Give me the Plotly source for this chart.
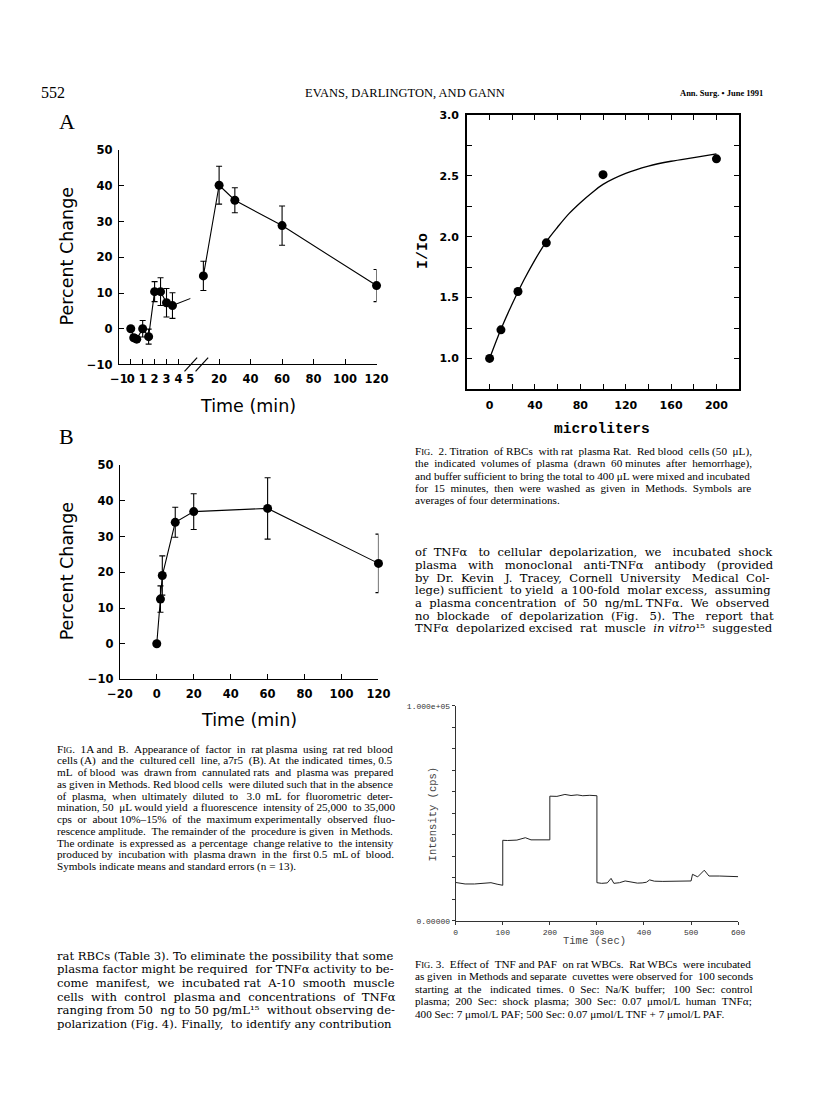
import re
import plotly.graph_objects as go

# Page is 816x1114; the browser adds its default 8px body margin, so the figure is 800x1098
PAGE_W, PAGE_H, PAD = 816, 1114, 8
W, H = PAGE_W - 2 * PAD, PAGE_H - 2 * PAD

# ---------------- Fig. 1A (rat RBCs) ----------------
A_EARLY_T = [0, 0.25, 0.5, 1, 1.5, 2, 2.5, 3, 3.5]
A_EARLY_Y = [0, -2.5, -2.9, 0, -2.2, 10.4, 10.4, 7.3, 6.5]
A_EARLY_ERR = [0.5, 0.8, 0.8, 2.3, 2.1, 2.8, 3.9, 4.0, 3.6]
A_STUB_T = [3.5, 5.1]
A_STUB_Y = [6.5, 8.6]
A_LATE_T = [10, 20, 30, 60, 120]
A_LATE_Y = [14.8, 40.2, 36.0, 28.9, 12.1]
A_LATE_ERR = [4.1, 5.3, 3.5, 5.5, 4.5]
A_EARLY_TICKS = [-1, 0, 1, 2, 3, 4, 5]
A_EARLY_LABELS = ["\u22121", "0", "1", "2", "3", "4", "5"]
A_LATE_TICKS = [20, 40, 60, 80, 100, 120]
PCT_TICKS = [-10, 0, 10, 20, 30, 40, 50]
PCT_LABELS = ["\u221210", "0", "10", "20", "30", "40", "50"]

# ---------------- Fig. 1B (a7r5 cells) ----------------
B_T = [0, 2, 3, 10, 20, 60, 120]
B_Y = [0, 12.5, 19.1, 34.0, 37.0, 37.9, 22.5]
B_ERR = [0, 3.7, 5.5, 4.2, 5.0, 8.6, 8.2]
B_TICKS = [-20, 0, 20, 40, 60, 80, 100, 120]
B_LABELS = ["\u221220", "0", "20", "40", "60", "80", "100", "120"]

# ---------------- Fig. 2 (titration) ----------------
F2_UL = [0, 10, 25, 50, 100, 200]
F2_RATIO = [1.0, 1.235, 1.55, 1.95, 2.51, 2.64]
F2_FIT_UL = [0, 10, 20, 30, 40, 50, 60, 70, 80, 90, 100, 120, 140, 160, 180, 200]
F2_FIT_RATIO = [1.0, 1.24, 1.45, 1.64, 1.81, 1.96, 2.08, 2.19, 2.28, 2.36, 2.43, 2.52, 2.58, 2.62, 2.65, 2.68]
F2_XTICKS = [0, 40, 80, 120, 160, 200]
F2_YTICKS = [1.0, 1.5, 2.0, 2.5, 3.0]
F2_YLABELS = ["1.0", "1.5", "2.0", "2.5", "3.0"]

# ---------------- Fig. 3 (WBC intensity trace) ----------------
F3_T = [0, 10, 20, 40, 60, 75, 88, 100,
        100, 110, 130, 140, 148, 160, 180, 200,
        200, 215, 232, 245, 258, 270, 285, 300,
        300, 310, 322, 330, 336, 348, 360, 373, 386, 396, 405, 412, 422, 440, 460, 480, 500,
        503, 514, 528, 538, 560, 600]
F3_CPS = [17900, 17600, 17200, 17200, 17400, 17800, 17100, 16600,
          37500, 37400, 37600, 38200, 38700, 37700, 37600, 37700,
          58000, 57900, 58800, 58300, 58600, 58200, 58400, 58200,
          17800, 17500, 17700, 19800, 17500, 17800, 18600, 18000, 17600, 17700, 18000, 19100, 18500, 18400, 18500, 18500, 18600,
          21700, 20500, 23600, 20900, 20900, 20600]
F3_XTICKS = [0, 100, 200, 300, 400, 500, 600]
F3_YTICKS = [0, 100000]
F3_YLABELS = ["0.00000", "1.000e+05"]

# ---------------- Text ----------------
SC = "<span style='font-size:8.5px'>IG</span>"
FIG1_CAPTION = [
    "F" + SC + ". 1A and B. Appearance of factor in rat plasma using rat red blood",
    "cells (A) and the cultured cell line, a7r5 (B). At the indicated times, 0.5",
    "mL of blood was drawn from cannulated rats and plasma was prepared",
    "as given in Methods. Red blood cells were diluted such that in the absence",
    "of plasma, when ultimately diluted to 3.0 mL for fluorometric deter-",
    "mination, 50 \u03bcL would yield a fluorescence intensity of 25,000 to 35,000",
    "cps or about 10%\u201315% of the maximum experimentally observed fluo-",
    "rescence amplitude. The remainder of the procedure is given in Methods.",
    "The ordinate is expressed as a percentage change relative to the intensity",
    "produced by incubation with plasma drawn in the first 0.5 mL of blood.",
    "Symbols indicate means and standard errors (n = 13).",
]
FIG2_CAPTION = [
    "F" + SC + ". 2. Titration of RBCs with rat plasma Rat. Red blood cells (50 \u03bcL),",
    "the indicated volumes of plasma (drawn 60 minutes after hemorrhage),",
    "and buffer sufficient to bring the total to 400 \u03bcL were mixed and incubated",
    "for 15 minutes, then were washed as given in Methods. Symbols are",
    "averages of four determinations.",
]
FIG3_CAPTION = [
    "F" + SC + ". 3. Effect of TNF and PAF on rat WBCs. Rat WBCs were incubated",
    "as given in Methods and separate cuvettes were observed for 100 seconds",
    "starting at the indicated times. 0 Sec: Na/K buffer; 100 Sec: control",
    "plasma; 200 Sec: shock plasma; 300 Sec: 0.07 \u03bcmol/L human TNF\u03b1;",
    "400 Sec: 7 \u03bcmol/L PAF; 500 Sec: 0.07 \u03bcmol/L TNF + 7 \u03bcmol/L PAF.",
]
BODY_LEFT = [
    "rat RBCs (Table 3). To eliminate the possibility that some",
    "plasma factor might be required for TNF\u03b1 activity to be-",
    "come manifest, we incubated rat A-10 smooth muscle",
    "cells with control plasma and concentrations of TNF\u03b1",
    "ranging from 50 ng to 50 pg/mL\u00b9\u2075 without observing de-",
    "polarization (Fig. 4). Finally, to identify any contribution",
]
BODY_RIGHT = [
    "of TNF\u03b1 to cellular depolarization, we incubated shock",
    "plasma with monoclonal anti-TNF\u03b1 antibody (provided",
    "by Dr. Kevin J. Tracey, Cornell University Medical Col-",
    "lege) sufficient to yield a 100-fold molar excess, assuming",
    "a plasma concentration of 50 ng/mL TNF\u03b1. We observed",
    "no blockade of depolarization (Fig. 5). The report that",
    "TNF\u03b1 depolarized excised rat muscle <i>in vitro</i>\u00b9\u2075 suggested",
]

# Approximate advance widths (1/1000 em) used only to justify text lines
TIMES_W = {" ": 250, "%": 833, "(": 333, ")": 333, "+": 564, ",": 250, "-": 333, ".": 250, "/": 278,
           ":": 278, ";": 278, "=": 564, "A": 722, "B": 667, "C": 667, "D": 722, "E": 611, "F": 556, "G": 722,
           "H": 722, "I": 333, "J": 389, "K": 722, "L": 611, "M": 889, "N": 722, "O": 722, "P": 556, "Q": 722,
           "R": 667, "S": 556, "T": 611, "U": 722, "V": 722, "W": 944, "X": 722, "Y": 722, "Z": 611, "a": 444,
           "b": 500, "c": 444, "d": 500, "e": 444, "f": 333, "g": 500, "h": 500, "i": 278, "j": 278, "k": 500,
           "l": 278, "m": 778, "n": 500, "o": 500, "p": 500, "q": 500, "r": 333, "s": 389, "t": 278, "u": 500,
           "v": 500, "w": 722, "x": 500, "y": 500, "z": 444, "\u2013": 500, "\u03b1": 520, "\u03bc": 500}
DVS_W = {" ": 318, "%": 950, "(": 390, ")": 390, "+": 838, ",": 318, "-": 338, ".": 318, "/": 337,
         ":": 337, ";": 337, "=": 838, "A": 722, "B": 735, "C": 765, "D": 802, "E": 730, "F": 694, "G": 799,
         "H": 872, "I": 395, "J": 401, "K": 747, "L": 664, "M": 1024, "N": 875, "O": 820, "P": 673, "Q": 820,
         "R": 753, "S": 685, "T": 667, "U": 843, "V": 722, "W": 1028, "X": 712, "Y": 660, "Z": 695, "a": 596,
         "b": 640, "c": 560, "d": 640, "e": 592, "f": 370, "g": 640, "h": 644, "i": 320, "j": 310, "k": 606,
         "l": 320, "m": 948, "n": 644, "o": 602, "p": 640, "q": 640, "r": 478, "s": 513, "t": 402, "u": 644,
         "v": 565, "w": 856, "x": 564, "y": 565, "z": 527, "\u2013": 500, "\u03b1": 660, "\u03bc": 660,
         "\u00b9": 400, "\u2075": 400}


def text_width(s, fs, table, digit):
    w, scale = 0.0, 1.0
    for tok in re.split(r"(<[^>]+>)", s):
        if tok.startswith("<"):
            if tok.startswith("<sup"):
                scale = 0.7
            elif tok.startswith("<span"):
                scale = float(re.search(r"font-size:([\d.]+)px", tok).group(1)) / fs
            elif tok.startswith("</"):
                scale = 1.0
            continue
        for ch in tok:
            w += (digit if ch in "0123456789" else table.get(ch, 550)) * scale
    return w * fs / 1000.0


def justify(line, fs, width, table, digit, space):
    words = re.split(r" (?![^<]*>)", line)
    gaps = len(words) - 1
    extra = width - text_width(line, fs, table, digit)
    n = int(extra / (space / 1000.0 * fs) + 0.3) if extra > 0 else 0
    n = min(n, gaps * 3)
    counts = [n // gaps] * gaps if gaps else []
    rem = n - sum(counts)
    for j in range(rem):
        counts[int((j + 0.5) * gaps / rem)] += 1
    out = words[0]
    for i in range(gaps):
        out += " " + "\u00a0" * counts[i] + words[i + 1]
    return out


def px(x):
    return (x - PAD) / W


def py(y):
    return 1 - (y - PAD) / H


def dom_x(a, b):
    return [px(a), px(b)]


def dom_y(top, bottom):
    return [py(bottom), py(top)]


SANS = "DejaVu Sans"
SERIF = "Liberation Serif"
BODY_SERIF = "DejaVu Serif"
MONO = "Liberation Mono"

fig = go.Figure()

marker = dict(color="black", size=9, symbol="circle")
line = dict(color="black", width=1.1)


def err(vals):
    return dict(type="data", array=vals, visible=True, color="black", thickness=1.1, width=3)


# Fig 1A traces (two x-axes either side of the axis break)
fig.add_trace(go.Scatter(x=A_EARLY_T, y=A_EARLY_Y, mode="lines+markers", marker=marker, line=line,
                         error_y=err(A_EARLY_ERR), xaxis="x", yaxis="y", cliponaxis=False))
fig.add_trace(go.Scatter(x=A_STUB_T, y=A_STUB_Y, mode="lines", line=line, xaxis="x", yaxis="y"))
fig.add_trace(go.Scatter(x=A_LATE_T, y=A_LATE_Y, mode="lines+markers", marker=marker, line=line,
                         error_y=err(A_LATE_ERR), xaxis="x5", yaxis="y", cliponaxis=False))
# Fig 1B
fig.add_trace(go.Scatter(x=B_T, y=B_Y, mode="lines+markers", marker=marker, line=line,
                         error_y=err(B_ERR), xaxis="x2", yaxis="y2", cliponaxis=False))
# Fig 2
fig.add_trace(go.Scatter(x=F2_FIT_UL, y=F2_FIT_RATIO, mode="lines",
                         line=dict(color="black", width=1.3, shape="spline"), xaxis="x3", yaxis="y3"))
fig.add_trace(go.Scatter(x=F2_UL, y=F2_RATIO, mode="markers", marker=dict(color="black", size=9),
                         xaxis="x3", yaxis="y3", cliponaxis=False))
# Fig 3
fig.add_trace(go.Scatter(x=F3_T, y=F3_CPS, mode="lines", line=dict(color="#222", width=1),
                         xaxis="x4", yaxis="y4"))

tick_bold = dict(family=SANS, size=11.5, color="black", weight="bold")
common = dict(showgrid=False, zeroline=False, showline=True, linecolor="black", linewidth=1.2,
              ticks="inside", tickcolor="black", tickwidth=1.2, ticklen=5, tickangle=0)

A_LEFT, A_BREAK, A_RIGHT = 109, 182.8, 375
A_TOP, A_BOT = 145, 362
f2_common = {**common, "linewidth": 1.5}
fig.update_layout(
    # Fig 1A
    xaxis=dict(domain=dom_x(A_LEFT, A_BREAK), range=[-1, 5], anchor="y", tickvals=A_EARLY_TICKS,
               ticktext=A_EARLY_LABELS, tickfont=tick_bold, ticklabelstandoff=4, **common),
    xaxis5=dict(domain=dom_x(A_BREAK, A_RIGHT), range=[120 - (A_RIGHT - A_BREAK) / 1.625, 120], anchor="y",
                tickvals=A_LATE_TICKS, tickfont=tick_bold, ticklabelstandoff=4, **common),
    yaxis=dict(domain=dom_y(A_TOP, A_BOT), range=[-10, 50], anchor="x", tickvals=PCT_TICKS, ticktext=PCT_LABELS,
               tickfont=tick_bold, ticklabelstandoff=3, **common),
    # Fig 1B
    xaxis2=dict(domain=dom_x(110, 377), range=[-20, 120], anchor="y2", tickvals=B_TICKS, ticktext=B_LABELS,
                tickfont=tick_bold, ticklabelstandoff=4, **common),
    yaxis2=dict(domain=dom_y(464, 681), range=[-10, 50], anchor="x2", tickvals=PCT_TICKS, ticktext=PCT_LABELS,
                tickfont=tick_bold, ticklabelstandoff=3, **common),
    # Fig 2
    xaxis3=dict(domain=dom_x(468.3, 749.3), range=[-20, 220], anchor="y3", tickvals=F2_XTICKS,
                tickfont=dict(family=SANS, size=11, color="black", weight="bold"), mirror="ticks",
                ticklabelstandoff=5, minor=dict(dtick=20, tick0=0, ticks="inside", ticklen=5, tickwidth=1.2,
                                                tickcolor="black"), **f2_common),
    yaxis3=dict(domain=dom_y(109.3, 386.7), range=[0.75, 3.0], anchor="x3", tickvals=F2_YTICKS,
                ticktext=F2_YLABELS, tickfont=dict(family=SANS, size=11, color="black", weight="bold"),
                mirror="ticks", ticklabelstandoff=4,
                minor=dict(dtick=0.25, tick0=0, ticks="inside", ticklen=5, tickwidth=1.2, tickcolor="black"),
                **f2_common),
    # Fig 3
    xaxis4=dict(domain=dom_x(456.7, 748.3), range=[0, 600], anchor="y4", tickvals=F3_XTICKS, tickangle=0,
                tickfont=dict(family=MONO, size=8, color="#333"), showgrid=False, zeroline=False, showline=True,
                linecolor="#333", linewidth=1, ticks="outside", ticklen=3, tickcolor="#333", tickwidth=1),
    yaxis4=dict(domain=dom_y(707.7, 925.7), range=[0, 100000], anchor="x4", tickvals=F3_YTICKS,
                ticktext=F3_YLABELS, tickfont=dict(family=MONO, size=8, color="#333"), showgrid=False,
                zeroline=False, showline=True, linecolor="#333", linewidth=1, ticks="outside", ticklen=3,
                tickcolor="#333", tickwidth=1,
                minor=dict(dtick=10000, tick0=0, ticks="outside", ticklen=3, tickwidth=1, tickcolor="#333")),
)

ann = []


def text(x, y, s, size, family=SERIF, xanchor="left", yanchor="middle", color="black", weight="normal", angle=0):
    ann.append(dict(x=px(x), y=py(y), xref="paper", yref="paper", text=s, showarrow=False, xanchor=xanchor,
                    yanchor=yanchor, textangle=angle, font=dict(family=family, size=size, color=color, weight=weight)))


# header
text(27, 87, "552", 16)
text(404, 87, "EVANS, DARLINGTON, AND GANN", 12.5, xanchor="center")
text(776, 87, "Ann. Surg. \u2022 June 1991", 8.5, xanchor="right", weight="bold")
# panel letters
text(55, 116, "A", 22, xanchor="center")
text(55, 435, "B", 22, xanchor="center")
# axis titles
text(55, 253, "Percent Change", 17.5, family=SANS, xanchor="center", angle=-90)
text(242, 404, "Time (min)", 17.5, family=SANS, xanchor="center")
text(55, 572, "Percent Change", 17.5, family=SANS, xanchor="center", angle=-90)
text(243, 722, "Time (min)", 17.5, family=SANS, xanchor="center")
text(424, 247, "I/Io", 15, family=MONO, xanchor="center", weight="bold", angle=-90)
text(608, 427, "microliters", 14.5, family=MONO, xanchor="center", weight="bold")
text(433, 817, "Intensity (cps)", 10.5, family=MONO, xanchor="center", color="#444", angle=-90)
text(600, 946, "Time (sec)", 10.5, family=MONO, xanchor="center", color="#444")

CAP_FS, BODY_FS = 11.2, 11.6


def block(lines, x0, x1, y0, step, fs, family, table, digit, space, justify_last=False):
    for i, s in enumerate(lines):
        last = i == len(lines) - 1
        s2 = justify(s, fs, x1 - x0, table, digit, space) if (justify_last or not last) else s
        text(x0, y0 + i * step, s2, fs, family=family)


block(FIG1_CAPTION, 43, 381, 751, 11.9, CAP_FS, SERIF, TIMES_W, 500, 250)
block(FIG2_CAPTION, 413, 750, 450, 12.3, CAP_FS, SERIF, TIMES_W, 500, 250)
block(FIG3_CAPTION, 413, 752, 969, 12.6, CAP_FS, SERIF, TIMES_W, 500, 250)
block(BODY_LEFT, 43, 381, 961, 13.8, BODY_FS, BODY_SERIF, DVS_W, 636, 318, justify_last=True)
block(BODY_RIGHT, 413, 771, 552, 12.9, BODY_FS, BODY_SERIF, DVS_W, 636, 318, justify_last=True)

# axis break marks on the Fig 1A time axis
shapes = []
for cx in (183.3, 194.7):
    shapes.append(dict(type="line", xref="paper", yref="paper", x0=px(cx - 6.5), y0=py(A_BOT + 7),
                       x1=px(cx + 6.5), y1=py(A_BOT - 7), line=dict(color="black", width=1.2)))

fig.update_layout(annotations=ann, shapes=shapes, width=W, height=H, margin=dict(l=0, r=0, t=0, b=0),
                  paper_bgcolor="white", plot_bgcolor="white", showlegend=False)

fig.write_html("out.html", config={"displayModeBar": False})
